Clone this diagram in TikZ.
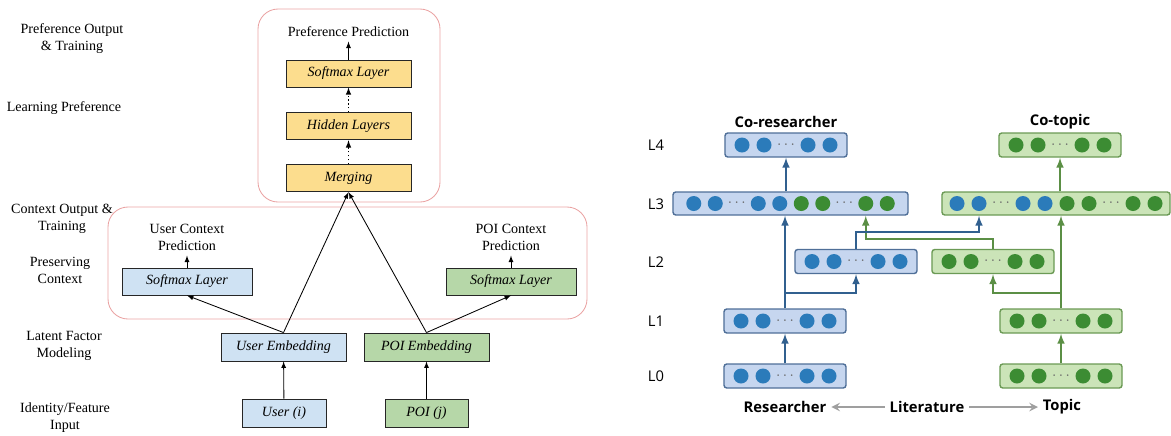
\documentclass[tikz,border=0pt]{standalone}
\usepackage{fontspec}
\setmainfont{Liberation Serif}
\newfontfamily\panelfont{Open Sans}
\usepackage{tikz}
\usetikzlibrary{arrows,calc,positioning}
\usepackage{xcolor}
\definecolor{prefyellow}{HTML}{FCDD8E}
\definecolor{userblue}{HTML}{CFE2F3}
\definecolor{poigreen}{HTML}{B6D7A8}
\definecolor{stagered}{HTML}{EAA3A3}
\definecolor{boxblue}{HTML}{C6D6EF}
\definecolor{boxblueedge}{HTML}{4F6F98}
\definecolor{boxgreen}{HTML}{CBE4B8}
\definecolor{boxgreenedge}{HTML}{6B9A55}
\definecolor{nb}{HTML}{2B7BBA}
\definecolor{ng}{HTML}{3C8C33}
\definecolor{lineblue}{HTML}{31608F}
\definecolor{linegreen}{HTML}{5B8F45}
\tikzset{
        block/.style = {draw=black!85, rectangle, line width=0.6pt,
            minimum height=0.675cm,
            minimum width=3.125cm, font=\itshape},
        yblock/.style = {block, fill=prefyellow},
        ublock/.style = {block, fill=userblue},
        pblock/.style = {block, fill=poigreen},
        stagename/.style = {align=center, font=\fontsize{10}{12}\selectfont},
        arrow/.style = {draw, -latex, line width=0.6pt},
        dotarrow/.style = {draw, dotted, -latex, line width=0.8pt},
        stagebox/.style = {draw=stagered, rounded corners=0.5cm, line width=0.6pt},
        layerb/.style = {draw=boxblueedge, fill=boxblue, rounded corners=2pt,
            line width=1pt, minimum width=3.05cm, minimum height=0.6cm},
        layerg/.style = {draw=boxgreenedge, fill=boxgreen, rounded corners=2pt,
            line width=1pt, minimum width=3.05cm, minimum height=0.6cm},
        neuron/.style = {circle, inner sep=0pt, minimum size=0.375cm},
        skipdots/.style = {inner sep=0pt, text=black!60, font=\fontsize{11}{11}\selectfont},
        bline/.style = {draw=lineblue, line width=1.4pt, -latex},
        gline/.style = {draw=linegreen, line width=1.4pt, -latex},
        graylink/.style = {draw=gray!75, line width=1.7pt, -stealth},
        lname/.style = {font=\panelfont\fontsize{10.5}{12}\selectfont},
        bname/.style = {font=\panelfont\bfseries\fontsize{10.5}{12}\selectfont},
    }
\newcommand{\neurons}[2]{%
  \foreach \dx/\col [count=\i] in {#2}
    \node[neuron, fill=\col] (#1-\i) at ($(#1.center)+(\dx,0)$) {};
}
\newcommand{\gapdots}[2]{%
  \foreach \dx [count=\i] in {#2}
    \node[skipdots] (#1-d\i) at ($(#1.center)+(\dx,0)$) {$\cdots$};
}

\begin{document}
\begin{tikzpicture}[x=0.025cm, y=-0.025cm]
                \useasboundingbox (0,0) rectangle (1171,435);

                \node[stagename] (outtrain) at (72,39) {Preference Output\\\& Training};
                \node[stagename] (learnpref) at (64,108) {Learning Preference};
                \node[stagename] (ctxtrain) at (62,219) {Context Output \&\\Training};
                \node[stagename] (preserve) at (60,270) {Preserving\\Context};
                \node[stagename] (latent) at (64,346) {Latent Factor\\Modeling};
                \node[stagename] (identity) at (65,418) {Identity/Feature\\Input};

                \draw[stagebox] (258,9) rectangle (440,202);
                \draw[stagebox] (108,207) rectangle (587,319);

                \node[yblock] (softmax) at (348.5,73.5) {Softmax Layer};
                \node[yblock, below=0.625cm of softmax] (hidden) {Hidden Layers};
                \node[yblock, below=0.6cm of hidden] (merging) {Merging};
                \node[stagename, above=0.45cm of softmax] (prefpred) {Preference Prediction};

                \node[ublock, minimum width=3.25cm] (usersoft) at (187,281.5) {Softmax Layer};
                \node[pblock, minimum width=3.25cm] (poisoft) at (511,281.5) {Softmax Layer};
                \node[stagename, above=0.3cm of usersoft] (userpred) {User Context\\Prediction};
                \node[stagename, above=0.3cm of poisoft] (poipred) {POI Context\\Prediction};

                \node[ublock, minimum height=0.7cm] (useremb) at (283.5,347) {User Embedding};
                \node[pblock, minimum height=0.7cm] (poiemb) at (426.5,347) {POI Embedding};
                \node[ublock, minimum height=0.7cm, minimum width=2.1cm] (user) at (284,413) {User (i)};
                \node[pblock, minimum height=0.7cm, minimum width=2.075cm] (poi) at (426.5,413) {POI (j)};

                \draw[arrow] (softmax) -- (prefpred);
                \draw[dotarrow] (hidden) -- (softmax);
                \draw[dotarrow] (merging) -- (hidden);
                \draw[arrow] (useremb.north) -- (merging.south);
                \draw[arrow] (poiemb.north) -- (merging.south);
                \draw[arrow] (useremb.north) -- (usersoft.south);
                \draw[arrow] (poiemb.north) -- (poisoft.south);
                \draw[arrow] (usersoft) -- (userpred);
                \draw[arrow] (poisoft) -- (poipred);
                \draw[arrow] (user) -- (useremb);
                \draw[arrow] (poi) -- (poiemb);

                % researcher / topic network
                \node[layerb] (rL4) at (786,145) {};
                \node[layerg] (tL4) at (1060,145) {};
                \node[layerb, minimum width=5.875cm, minimum height=0.575cm] (rL3) at (790.5,203.5) {};
                \node[layerg, minimum width=5.7cm, minimum height=0.575cm] (tL3) at (1056,203.5) {};
                \node[layerb] (rL2) at (856,261.5) {};
                \node[layerg] (tL2) at (993,261.5) {};
                \node[layerb] (rL1) at (785,321) {};
                \node[layerg] (tL1) at (1061,321) {};
                \node[layerb] (rL0) at (785,376) {};
                \node[layerg] (tL0) at (1061,376) {};

                \foreach \n/\c in {rL4/nb,rL2/nb,rL1/nb,rL0/nb,tL4/ng,tL2/ng,tL1/ng,tL0/ng}{
                  \neurons{\n}{-44/\c,-22/\c,22/\c,44/\c}
                  \gapdots{\n}{0}
                }
                \neurons{rL3}{-96.75/nb,-75.25/nb,-32.25/nb,-10.75/nb,10.75/ng,32.25/ng,75.25/ng,96.75/ng}
                \gapdots{rL3}{-53.75,53.75}
                \neurons{tL3}{-99/nb,-77/nb,-33/nb,-11/nb,11/ng,33/ng,77/ng,99/ng}
                \gapdots{tL3}{-55,55}

                \node[lname] (l4) at (656,145) {L4};
                \node[lname] (l3) at (656,204) {L3};
                \node[lname] (l2) at (656,262) {L2};
                \node[lname] (l1) at (656,321) {L1};
                \node[lname] (l0) at (656,376) {L0};

                \node[bname] (cores) at (786,122) {Co-researcher};
                \node[bname] (cotop) at (1060,122) {Co-topic};
                \node[bname] (res) at (785,407) {Researcher};
                \node[bname] (lit) at (927,407) {Literature};
                \node[bname] (topic) at (1062,407) {Topic};

                \coordinate (rsplit) at (785,293);
                \coordinate (tsplit) at (1061,293);
                \coordinate (bturn) at (0,232);
                \coordinate (gturn) at (0,239);

                \draw[bline] (rL0) -- (rL1);
                \draw[bline] (rL1.north) -- (rL1.north |- rL3.south);
                \draw[bline] (rsplit) -| (rL2.south);
                \draw[bline] (rL4.south |- rL3.north) -- (rL4.south);
                \draw[gline] (tL0) -- (tL1);
                \draw[gline] (tL1.north) -- (tL1.north |- tL3.south);
                \draw[gline] (tsplit) -| (tL2.south);
                \draw[gline] (tL4.south |- tL3.north) -- (tL4.south);
                \draw[gline] (tL2.north) |- (gturn -| rL3-7) -- (rL3-7 |- rL3.south);
                \draw[bline] (rL2.north) |- (bturn -| tL3-2) -- (tL3-2 |- tL3.south);

                \draw[graylink] (lit) -- (res);
                \draw[graylink] (lit) -- (topic);
\end{tikzpicture}
\end{document}
